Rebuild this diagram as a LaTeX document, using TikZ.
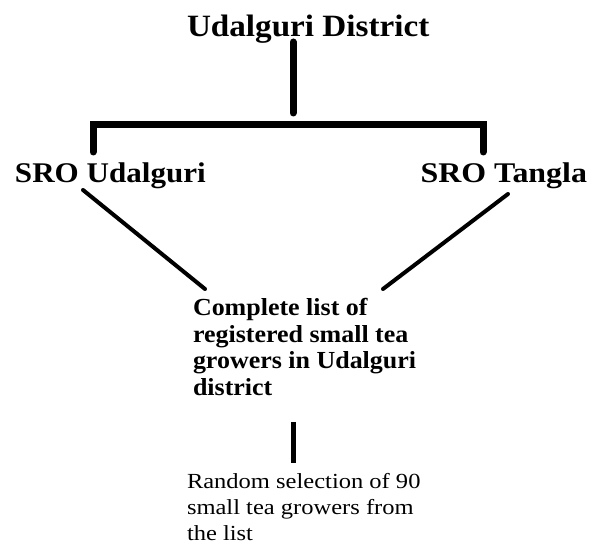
\documentclass[tikz,border=0pt]{standalone}
\usepackage{fontspec}
\setmainfont{Liberation Serif}
\usepackage{graphicx}
\begin{document}
\begin{tikzpicture}[x=1pt,y=1pt,
  every node/.style={inner sep=0pt, outer sep=0pt},
  titletext/.style={font=\bfseries\fontsize{31}{33}\selectfont},
  srotext/.style={font=\bfseries\fontsize{28.5}{30}\selectfont},
  listtext/.style={font=\bfseries\fontsize{24.5}{26.5}\selectfont},
  randtext/.style={font=\fontsize{21.5}{26}\selectfont},
  thickline/.style={line width=7pt, line cap=round},
  diagline/.style={line width=4pt, line cap=round},
  thinstem/.style={line width=5pt}]
\useasboundingbox (0,0) rectangle (590,545);
\fill[white] (0,0) rectangle (590,545);

\node[titletext, anchor=base west] (title) at (187,508) {\scalebox{1.07}[1]{Udalguri District}};
\node[srotext, anchor=base west] (sroU) at (15,362) {\scalebox{1.09}[1]{SRO Udalguri}};
\node[srotext, anchor=base east] (sroT) at (587,362) {\scalebox{1.12}[1]{SRO Tangla}};
\node[listtext, anchor=base west] (list) at (193,229) {\scalebox{1.06}[1]{\vtop{\hbox{Complete list of}\hbox{registered small tea}\hbox{growers in Udalguri}\hbox{district}}}};
\node[randtext, anchor=base west] (rand) at (187,56) {\scalebox{1.14}[1]{\vtop{\hbox{Random selection of 90}\hbox{small tea growers from}\hbox{the list}}}};

\coordinate (stemtop) at (293,503);
\coordinate (stembot) at (293,432);
\coordinate (barL) at (93,393);
\coordinate (barLc) at (93,420);
\coordinate (barRc) at (483,420);
\coordinate (barR) at (483,393);
\coordinate (dLa) at (83,355);
\coordinate (dLb) at (205,256);
\coordinate (dRa) at (508,351);
\coordinate (dRb) at (383,256);
\coordinate (vtop) at (293,123);
\coordinate (vbot) at (293,82);

\draw[thickline] (stemtop) -- (stembot);
\draw[thickline] (barL) -- (barLc) -- (barRc) -- (barR);
\draw[diagline] (dLa) -- (dLb);
\draw[diagline] (dRa) -- (dRb);
\draw[thinstem] (vtop) -- (vbot);
\end{tikzpicture}
\end{document}
